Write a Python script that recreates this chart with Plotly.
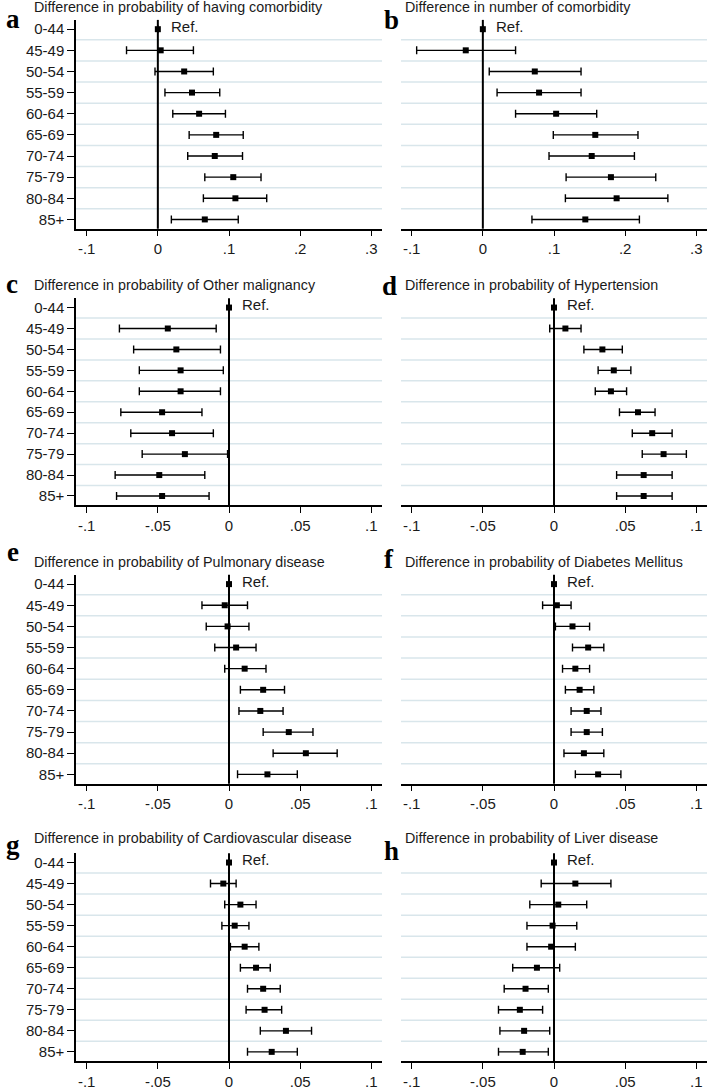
import plotly.graph_objects as go

categories = ["0-44", "45-49", "50-54", "55-59", "60-64", "65-69", "70-74", "75-79", "80-84", "85+"]

# panel a: probability of having comorbidity
a_est = [0, 0.004, 0.037, 0.048, 0.058, 0.082, 0.080, 0.106, 0.109, 0.066]
a_lo = [0, -0.044, -0.004, 0.010, 0.021, 0.044, 0.042, 0.066, 0.064, 0.019]
a_hi = [0, 0.050, 0.078, 0.087, 0.095, 0.120, 0.119, 0.145, 0.153, 0.113]

# panel b: number of comorbidity
b_est = [0, -0.024, 0.073, 0.079, 0.103, 0.158, 0.153, 0.180, 0.188, 0.144]
b_lo = [0, -0.093, 0.009, 0.020, 0.046, 0.099, 0.093, 0.117, 0.116, 0.069]
b_hi = [0, 0.046, 0.138, 0.138, 0.160, 0.218, 0.213, 0.243, 0.260, 0.220]

# panel c: other malignancy
c_est = [0, -0.043, -0.037, -0.034, -0.034, -0.047, -0.040, -0.031, -0.049, -0.047]
c_lo = [0, -0.077, -0.067, -0.063, -0.063, -0.076, -0.069, -0.061, -0.080, -0.079]
c_hi = [0, -0.009, -0.006, -0.004, -0.006, -0.019, -0.011, -0.001, -0.017, -0.014]

# panel d: hypertension
d_est = [0, 0.008, 0.034, 0.042, 0.040, 0.059, 0.069, 0.077, 0.063, 0.063]
d_lo = [0, -0.003, 0.021, 0.031, 0.029, 0.046, 0.055, 0.062, 0.044, 0.044]
d_hi = [0, 0.019, 0.048, 0.054, 0.051, 0.071, 0.083, 0.093, 0.083, 0.083]

# panel e: pulmonary disease
e_est = [0, -0.003, -0.001, 0.005, 0.011, 0.024, 0.022, 0.042, 0.054, 0.027]
e_lo = [0, -0.019, -0.016, -0.010, -0.003, 0.008, 0.007, 0.024, 0.031, 0.006]
e_hi = [0, 0.013, 0.014, 0.019, 0.026, 0.039, 0.038, 0.059, 0.076, 0.048]

# panel f: diabetes mellitus
f_est = [0, 0.002, 0.013, 0.024, 0.015, 0.018, 0.023, 0.023, 0.021, 0.031]
f_lo = [0, -0.008, 0.001, 0.013, 0.006, 0.008, 0.012, 0.012, 0.007, 0.015]
f_hi = [0, 0.012, 0.025, 0.035, 0.025, 0.028, 0.033, 0.034, 0.035, 0.047]

# panel g: cardiovascular disease
g_est = [0, -0.004, 0.008, 0.004, 0.011, 0.019, 0.024, 0.025, 0.040, 0.030]
g_lo = [0, -0.013, -0.003, -0.005, 0.001, 0.008, 0.013, 0.012, 0.022, 0.013]
g_hi = [0, 0.005, 0.019, 0.014, 0.021, 0.029, 0.036, 0.037, 0.058, 0.048]

# panel h: liver disease
h_est = [0, 0.015, 0.003, -0.001, -0.002, -0.012, -0.020, -0.024, -0.021, -0.022]
h_lo = [0, -0.009, -0.017, -0.019, -0.019, -0.029, -0.035, -0.039, -0.038, -0.039]
h_hi = [0, 0.040, 0.023, 0.016, 0.015, 0.004, -0.004, -0.008, -0.003, -0.004]

titles = [
    "Difference in probability of having comorbidity",
    "Difference in number of comorbidity",
    "Difference in probability of Other malignancy",
    "Difference in probability of Hypertension",
    "Difference in probability of Pulmonary disease",
    "Difference in probability of Diabetes Mellitus",
    "Difference in probability of Cardiovascular disease",
    "Difference in probability of Liver disease",
]
letters = ["a", "b", "c", "d", "e", "f", "g", "h"]

ticks_wide = [-0.1, 0, 0.1, 0.2, 0.3]
ticks_wide_text = ["-.1", "0", ".1", ".2", ".3"]
ticks_narrow = [-0.1, -0.05, 0, 0.05, 0.1]
ticks_narrow_text = ["-.1", "-.05", "0", ".05", ".1"]

panels = [
    (a_est, a_lo, a_hi), (b_est, b_lo, b_hi),
    (c_est, c_lo, c_hi), (d_est, d_lo, d_hi),
    (e_est, e_lo, e_hi), (f_est, f_lo, f_hi),
    (g_est, g_lo, g_hi), (h_est, h_lo, h_hi),
]

W, H = 709, 1090
col_px = [(76, 382), (401, 707)]
row_px = [(20, 230), (300, 508), (578, 788), (858, 1067)]
title_y = [7, 287, 565, 843]
title_x = [32, 403]
letter_pos = [(13, 19), (391, 20), (12, 286), (389, 288), (13, 555), (389, 562), (13, 850), (391, 856)]


def px_x(v):
    return v / W


def px_y(v):
    return 1 - v / H


FONT = "Liberation Sans, Arial, sans-serif"
TXT = "#1a1a1a"
GRID = "#d9e6eb"

fig = go.Figure()
layout = dict(
    width=W, height=H, margin=dict(l=0, r=0, t=0, b=0),
    paper_bgcolor="white", plot_bgcolor="white", showlegend=False,
    font=dict(family=FONT, color=TXT, size=15),
)
shapes = []
annotations = []
ypos = list(range(len(categories)))

for i, (est, lo, hi) in enumerate(panels):
    r, c = divmod(i, 2)
    n = i + 1
    xa = "xaxis" if n == 1 else f"xaxis{n}"
    ya = "yaxis" if n == 1 else f"yaxis{n}"
    xr = "x" if n == 1 else f"x{n}"
    yr = "y" if n == 1 else f"y{n}"
    x0, x1 = col_px[c]
    y0, y1 = row_px[r]
    wide = r == 0
    rng = [-0.115, 0.315] if wide else [-0.1075, 0.1075]

    fig.add_trace(go.Scatter(
        x=est, y=ypos, xaxis=xr, yaxis=yr, mode="markers",
        marker=dict(symbol="square", size=6, color="black"),
        error_x=dict(type="data", symmetric=False,
                     array=[h - e for h, e in zip(hi, est)],
                     arrayminus=[e - l for e, l in zip(est, lo)],
                     color="black", thickness=1.4, width=4),
        cliponaxis=False, hoverinfo="skip",
    ))

    layout[xa] = dict(
        domain=[px_x(x0), px_x(x1)], anchor=yr, range=rng,
        tickvals=ticks_wide if wide else ticks_narrow,
        ticktext=ticks_wide_text if wide else ticks_narrow_text,
        showline=True, linecolor="black", linewidth=1.5,
        ticks="outside", ticklen=6, tickwidth=1.3, tickcolor="black",
        showgrid=False, zeroline=False, tickfont=dict(size=15, color=TXT),
    )
    ydict = dict(
        domain=[px_y(y1), px_y(y0)], anchor=xr, range=[9.44, -0.44],
        showgrid=False, zeroline=False,
    )
    if c == 0:
        ydict.update(tickvals=ypos, ticktext=categories, showline=True,
                     linecolor="black", linewidth=1.5, ticks="outside",
                     ticklen=7, tickwidth=1.3, tickcolor="black",
                     tickfont=dict(size=15, color=TXT))
    else:
        ydict.update(showticklabels=False, showline=False, ticks="")
    layout[ya] = ydict

    for k in range(len(categories) - 1):
        shapes.append(dict(type="line", xref=f"{xr} domain", yref=yr,
                           x0=0, x1=1, y0=k + 0.5, y1=k + 0.5,
                           line=dict(color=GRID, width=1.5), layer="below"))
    shapes.append(dict(type="line", xref=xr, yref=f"{yr} domain",
                       x0=0, x1=0, y0=0, y1=1,
                       line=dict(color="black", width=2), layer="below"))

    annotations.append(dict(xref=xr, yref=yr, x=0, y=0, text="Ref.",
                            showarrow=False, xanchor="left", yanchor="middle",
                            xshift=11, yshift=3, font=dict(size=15, color=TXT)))
    annotations.append(dict(xref="paper", yref="paper", x=px_x(title_x[c]),
                            y=px_y(title_y[r]), text=titles[i], showarrow=False,
                            xanchor="left", yanchor="middle",
                            font=dict(size=14.3, color=TXT)))
    lx, ly = letter_pos[i]
    annotations.append(dict(xref="paper", yref="paper", x=px_x(lx), y=px_y(ly),
                            text=f"<b>{letters[i]}</b>", showarrow=False,
                            xanchor="center", yanchor="middle",
                            font=dict(size=27, color="black",
                                      family="Liberation Serif, Times New Roman, serif")))

layout["shapes"] = shapes
layout["annotations"] = annotations
fig.update_layout(**layout)
# remove the default 8px page margin so the figure fills the window exactly
fig.write_html("out.html",
               config={"displayModeBar": False},
               post_script="document.body.style.margin='0';document.body.style.overflow='hidden';")
